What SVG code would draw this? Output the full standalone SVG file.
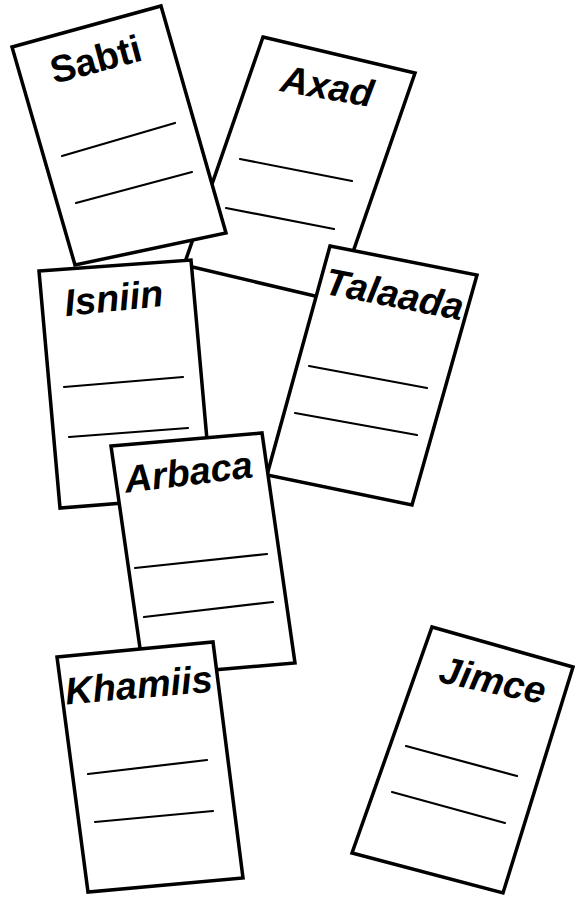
<svg xmlns="http://www.w3.org/2000/svg" width="576" height="898" viewBox="0 0 576 898">
<style>
.card{fill:#fff;stroke:#000;stroke-width:3.5;stroke-linejoin:miter}
.ln{stroke:#000;stroke-width:2.2;fill:none;stroke-linecap:round}
.lbl{font-family:"Liberation Sans",Arial,sans-serif;font-weight:bold;font-size:38px;fill:#000;text-anchor:middle}
.it{font-style:italic}
</style>
<rect width="576" height="898" fill="#fff"/>
<g id="axad">
<polygon class="card" points="263,37 415,73 336,301 184,265"/>
<line class="ln" x1="240" y1="159" x2="352" y2="181"/>
<line class="ln" x1="226" y1="208" x2="334" y2="229"/>
<text class="lbl it" transform="translate(325,99) rotate(10)">Axad</text>
</g>
<g id="sabti">
<polygon class="card" points="12,47 161,6 226,233 75,265"/>
<line class="ln" x1="62" y1="156" x2="175" y2="123"/>
<line class="ln" x1="76" y1="203" x2="192" y2="172"/>
<text class="lbl" transform="translate(99,72) rotate(-15)">Sabti</text>
</g>
<g id="isniin">
<polygon class="card" points="39,271 191,260 212,496 60,508"/>
<line class="ln" x1="64" y1="387" x2="183" y2="377"/>
<line class="ln" x1="69" y1="437" x2="188" y2="428"/>
<text class="lbl it" transform="translate(115,311) rotate(-6)">Isniin</text>
</g>
<g id="talaada">
<polygon class="card" points="330,246 477,275 412,505 267,475"/>
<line class="ln" x1="309" y1="366" x2="427" y2="388"/>
<line class="ln" x1="295" y1="413" x2="417" y2="435"/>
<text class="lbl it" transform="translate(392,307) rotate(11)">Talaada</text>
</g>
<g id="arbaca">
<polygon class="card" points="111,446 262,433 295,663 144,676"/>
<line class="ln" x1="135" y1="568" x2="267" y2="554"/>
<line class="ln" x1="144" y1="617" x2="273" y2="602"/>
<text class="lbl it" transform="translate(190,485) rotate(-7)">Arbaca</text>
</g>
<g id="khamiis">
<polygon class="card" points="57,657 213,642 243,878 88,892"/>
<line class="ln" x1="88" y1="774" x2="207" y2="760"/>
<line class="ln" x1="95" y1="822" x2="213" y2="811"/>
<text class="lbl it" transform="translate(140,698) rotate(-5)">Khamiis</text>
</g>
<g id="jimce">
<polygon class="card" points="432,627 573,667 503,893 352,853"/>
<line class="ln" x1="406" y1="746" x2="517" y2="776"/>
<line class="ln" x1="392" y1="792" x2="505" y2="823"/>
<text class="lbl it" transform="translate(490,693) rotate(12)">Jimce</text>
</g>
<g id="connectors"/>
</svg>
